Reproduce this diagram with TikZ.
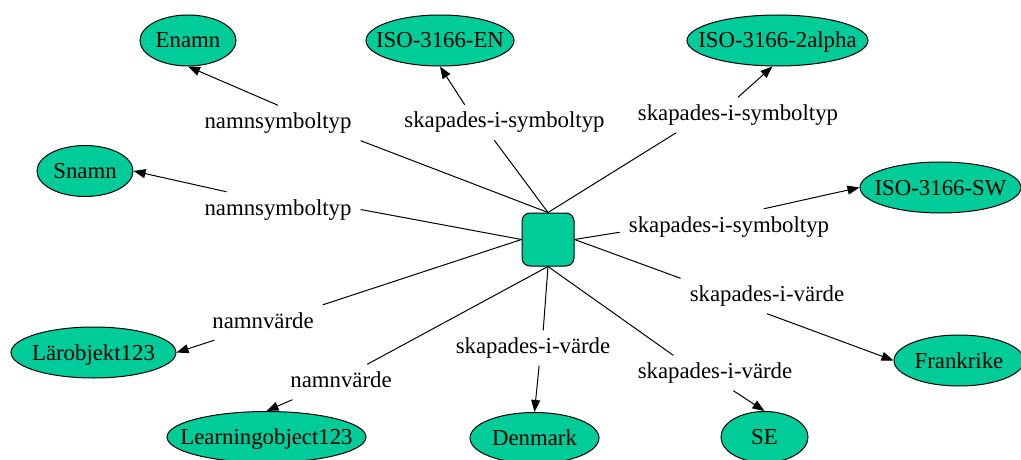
\documentclass[tikz,border=0pt]{standalone}
\usepackage{fontspec}
\setmainfont{Liberation Serif}
\usetikzlibrary{shapes.geometric,arrows.meta}
\definecolor{nodegreen}{RGB}{0,204,153}
\begin{document}
\begin{tikzpicture}[x=1pt,y=-1pt,
  txt/.style={font=\fontsize{22.8}{27}\selectfont},
  enttext/.style={txt, inner sep=0pt, text height=15pt, text depth=0pt},
  ent/.style={ellipse, draw, fill=nodegreen, line width=1pt, inner sep=0pt, minimum height=51pt},
  lbl/.style={txt, inner xsep=9pt, inner ysep=7pt, text height=16pt, text depth=5pt},
  cbox/.style={rectangle, rounded corners=8pt, draw, fill=nodegreen, line width=1pt, minimum width=52pt, minimum height=53pt},
  conn/.style={line width=1pt},
  arr/.style={line width=1pt, -{Triangle[length=12pt,width=9pt]}}]
\useasboundingbox (0,0) rectangle (1021,460);
% centre
\node[cbox] (c) at (548,239.5) {};
% entities
\node[ent, minimum width=96pt, label={[enttext]center:Enamn}] (enamn) at (188,40.5) {};
\node[ent, minimum width=96pt, label={[enttext]center:Snamn}] (snamn) at (85,171) {};
\node[ent, minimum width=148pt, label={[enttext]center:ISO-3166-EN}] (en) at (440,40.5) {};
\node[ent, minimum width=181pt, label={[enttext]center:ISO-3166-2alpha}] (alpha) at (777.5,40.5) {};
\node[ent, minimum width=161pt, label={[enttext]center:ISO-3166-SW}] (sw) at (940.5,187.5) {};
\node[ent, minimum width=130pt, label={[enttext]center:Frankrike}] (fr) at (959,360.5) {};
\node[ent, minimum width=165pt, label={[enttext]center:Lärobjekt123}] (laro) at (93.5,352.5) {};
\node[ent, minimum width=199pt, label={[enttext]center:Learningobject123}] (lo) at (266.5,437) {};
\node[ent, minimum width=129pt, label={[enttext]center:Denmark}] (dk) at (534.5,438) {};
\node[ent, minimum width=87pt, label={[enttext]center:SE}] (se) at (764.5,437) {};
% labels
\node[lbl] (l1) at (278,123) {namnsymboltyp};
\node[lbl] (l2) at (278,209.5) {namnsymboltyp};
\node[lbl] (l3) at (504.5,122.5) {skapades-i-symboltyp};
\node[lbl] (l4) at (738,115) {skapades-i-symboltyp};
\node[lbl] (l5) at (729,226.5) {skapades-i-symboltyp};
\node[lbl] (l6) at (767,296) {skapades-i-värde};
\node[lbl] (l7) at (715,373) {skapades-i-värde};
\node[lbl] (l8) at (533,348) {skapades-i-värde};
\node[lbl] (l9) at (341,382) {namnvärde};
\node[lbl] (l10) at (263,322.5) {namnvärde};
% connectors
\draw[conn] (c.north) -- (l1.south east);
\draw[arr] (l1.north) -- (enamn.south);
\draw[conn] (c.west) -- (l2.east);
\draw[arr] (l2.161) -- (snamn.east);
\draw[conn] (c.north) -- (l3.240);
\draw[arr] (l3.156) -- (en.south);
\draw[conn] (c.north) -- (l4.196);
\draw[arr] (l4.north) -- (alpha.-101);
\draw[conn] (c.east) -- (l5.183);
\draw[arr] (l5.27) -- (sw.west);
\draw[conn] (c.east) -- (l6.north west);
\draw[arr] (l6.south) -- (fr.west);
\draw[conn] (c.south) -- (l7.157);
\draw[arr] (l7.-44) -- (se.north);
\draw[conn] (c.south) -- (l8.60);
\draw[arr] (l8.-71) -- (dk.north);
\draw[conn] (c.south) -- (l9.34);
\draw[arr] (l9.200) -- (lo.north);
\draw[conn] (c.west) -- (l10.north east);
\draw[arr] (l10.200) -- (laro.east);
\end{tikzpicture}
\end{document}
